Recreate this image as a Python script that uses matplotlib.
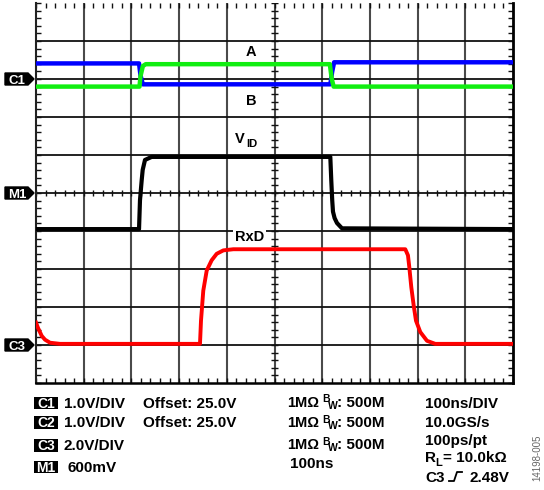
import numpy as np
import matplotlib
matplotlib.use("Agg")
import matplotlib.pyplot as plt
from matplotlib.patches import Polygon, Rectangle
from matplotlib.ticker import MultipleLocator

# Scope traces.
# time in ns (100 ns/DIV), level in divisions from screen centre
t_a = [0, 216, 219, 224, 617, 621, 625, 1000]
v_a = [3.41, 3.41, 3.10, 2.86, 2.86, 3.20, 3.44, 3.44]

t_b = [0, 217, 219, 224, 230, 616, 620, 624, 1000]
v_b = [2.80, 2.80, 3.07, 3.34, 3.39, 3.39, 3.00, 2.80, 2.80]

t_vid = [0, 216, 218, 221.6, 223.7, 228.5, 242.4, 617, 619, 621, 622.6, 626, 631, 641.5, 1000]
v_vid = [-0.95, -0.95, -0.19, 0.34, 0.61, 0.87, 0.95, 0.95, 0.34, -0.19, -0.49, -0.66, -0.79, -0.93, -0.95]

t_rxd = [0, 4.2, 12, 18.9, 29.4, 50.3, 343.8, 345.9, 350.7, 357.9, 368.3, 378.8, 392.7, 413.6,
         774.2, 779.8, 782.6, 786.8, 791.8, 796.6, 805.7, 819.7, 837.1, 1000]
v_rxd = [-3.41, -3.55, -3.76, -3.86, -3.94, -3.97, -3.97, -3.36, -2.57, -2.04, -1.77, -1.60, -1.51, -1.48,
         -1.48, -1.64, -1.95, -2.48, -2.96, -3.36, -3.66, -3.89, -3.97, -3.97]

# channel reference markers (divisions)
marker_names = ['C1', 'M1', 'C3']
marker_levels = [3.0, 0.0, -4.0]

# settings readout below the screen
ch_names = ['C1', 'C2', 'C3', 'M1']
ch_scale = ['1.0V/DIV', '1.0V/DIV', '2.0V/DIV', '600mV']
ch_offset = ['Offset: 25.0V', 'Offset: 25.0V', '', '']
ch_input = ['1MΩ', '1MΩ', '1MΩ']
ch_bw = ['500M', '500M', '500M']
math_span = '100ns'
timebase = ['100ns/DIV', '10.0GS/s', '100ps/pt']
load_r = '10.0kΩ'
trig_src, trig_level = 'C3', '2.48V'
fig_id = '14198-005'

W, H = 544, 490
FONT = 'Liberation Sans'
plt.rcParams['font.family'] = [FONT, 'DejaVu Sans']

fig = plt.figure(figsize=(W / 100, H / 100), dpi=100)
ax = fig.add_axes([36 / W, 1 - 383 / H, 477 / W, 380 / H])
ax.set_xlim(0, 1000)
ax.set_ylim(-5, 5)

# graticule
for x in range(100, 1000, 100):
    ax.axvline(x, color='#4a4a4a', lw=1.5, zorder=1)
for y in range(-4, 5):
    ax.axhline(y, color='#111111', lw=1.3, zorder=1)
ax.hlines(np.arange(-5, 5.01, 0.2), 493, 507, color='#111111', lw=1.0, zorder=1)
ax.vlines(np.arange(0, 1001, 20), -0.09, 0.09, color='#111111', lw=1.0, zorder=1)

ax.set_xticks([])
ax.set_yticks([])
ax.xaxis.set_minor_locator(MultipleLocator(20))
ax.yaxis.set_minor_locator(MultipleLocator(0.2))
ax.tick_params(which='minor', direction='in', length=3.5, width=1.0, color='#111111',
               top=True, bottom=True, left=True, right=True,
               labelbottom=False, labelleft=False)
ax.spines['top'].set_visible(False)
ax.spines['left'].set_linewidth(1.5)
ax.spines['left'].set_color('#222222')
ax.spines['right'].set_linewidth(2.0)
ax.spines['bottom'].set_linewidth(1.8)

# traces
ax.plot(t_a, v_a, color='#0000ff', lw=3.2, zorder=3, solid_joinstyle='round')
ax.plot(t_b, v_b, color='#11ee11', lw=3.2, zorder=3, solid_joinstyle='round')
ax.plot(t_vid, v_vid, color='black', lw=3.0, zorder=3, solid_joinstyle='round')
ax.plot(t_rxd, v_rxd, color='#ff0000', lw=2.8, zorder=3, solid_joinstyle='round')

# overlay in pixel coordinates for labels and readout
ov = fig.add_axes([0, 0, 1, 1])
ov.set_xlim(0, W)
ov.set_ylim(H, 0)
ov.axis('off')


def level_px(v):
    return H - ax.transData.transform((0, v))[1]


bold = dict(fontweight='bold', family=FONT)

# trace labels
ov.text(251, 56, 'A', ha='center', va='baseline', fontsize=10.5, **bold)
ov.text(251, 105, 'B', ha='center', va='baseline', fontsize=10.5, **bold)
ov.text(235, 143, 'V', ha='left', va='baseline', fontsize=10.5, **bold)
ov.text(246, 146.5, 'ID', ha='left', va='baseline', fontsize=8, **bold)
ov.text(235, 241, 'RxD', ha='left', va='baseline', fontsize=10.5,
        bbox=dict(facecolor='white', edgecolor='none', pad=1.2), **bold)

# channel markers at the left edge
for name, lvl in zip(marker_names, marker_levels):
    yc = level_px(lvl)
    ov.add_patch(Polygon([(5, yc - 6), (28, yc - 6), (34, yc), (28, yc + 6), (5, yc + 6)],
                         closed=True, facecolor='black', edgecolor='black'))
    ov.text(17, yc + 4.6, name, color='white', ha='center', va='baseline', fontsize=9.5, **bold)

# readout, left block
left_base = [407.7, 427.3, 450, 471.7]
for i, name in enumerate(ch_names):
    yb = left_base[i]
    ov.add_patch(Rectangle((34, yb - 11), 24, 12.5, facecolor='black', edgecolor='none'))
    ov.text(46, yb, name, color='white', ha='center', va='baseline', fontsize=10, **bold)
    ov.text(64 if i < 3 else 67, yb, ch_scale[i], ha='left', va='baseline', fontsize=11, **bold)
    if ch_offset[i]:
        ov.text(143, yb, ch_offset[i], ha='left', va='baseline', fontsize=11, **bold)

# readout, middle block
mid_base = [406.7, 427.3, 449]
for i in range(3):
    yb = mid_base[i]
    ov.text(287, yb, ch_input[i], ha='left', va='baseline', fontsize=10.5, **bold)
    ov.text(322, yb - 4.5, 'B', ha='left', va='baseline', fontsize=7.5, **bold)
    ov.text(328, yb + 2, 'W', ha='left', va='baseline', fontsize=7.5, **bold)
    ov.text(337, yb, ': ' + ch_bw[i], ha='left', va='baseline', fontsize=11, **bold)
ov.text(290, 468.3, math_span, ha='left', va='baseline', fontsize=11, **bold)

# readout, right block
right_base = [407.7, 427, 445]
for i, s in enumerate(timebase):
    ov.text(425, right_base[i], s, ha='left', va='baseline', fontsize=11, **bold)
ov.text(425, 462, 'R', ha='left', va='baseline', fontsize=11, **bold)
ov.text(435, 465.5, 'L', ha='left', va='baseline', fontsize=8, **bold)
ov.text(443, 462, '= ' + load_r, ha='left', va='baseline', fontsize=11, **bold)
ov.text(425, 481.7, trig_src, ha='left', va='baseline', fontsize=11, **bold)
ov.plot([449, 454, 457, 462], [481, 481, 472, 472], color='black', lw=1.3)
ov.text(470, 481.7, trig_level, ha='left', va='baseline', fontsize=11, **bold)

ov.text(537, 458, fig_id, rotation=90, ha='center', va='center', fontsize=7,
        color='#666666', family=FONT)

fig.savefig('out.png', dpi=100)
